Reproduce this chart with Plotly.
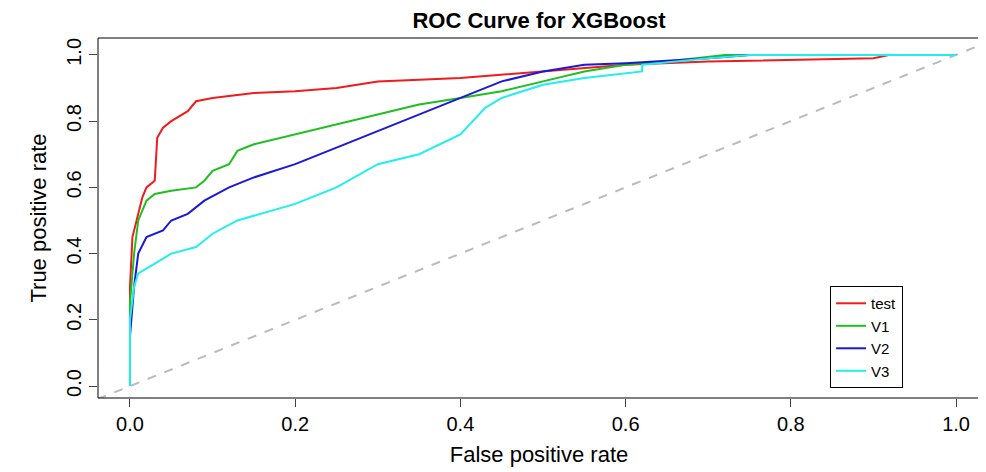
import plotly.graph_objects as go

test_x = [0,0,0.003,0.01,0.015,0.02,0.03,0.033,0.04,0.05,0.07,0.08,0.1,0.15,0.2,0.25,0.3,0.4,0.5,0.6,0.7,0.8,0.9,0.92,1]
test_y = [0,0.3,0.45,0.52,0.57,0.6,0.62,0.75,0.78,0.8,0.83,0.86,0.87,0.885,0.89,0.9,0.92,0.93,0.95,0.97,0.98,0.985,0.99,1.0,1]
v1_x = [0,0,0.005,0.01,0.02,0.03,0.05,0.08,0.09,0.1,0.12,0.13,0.15,0.2,0.25,0.3,0.35,0.4,0.45,0.5,0.55,0.6,0.65,0.72,1]
v1_y = [0,0.25,0.4,0.5,0.56,0.58,0.59,0.6,0.62,0.65,0.67,0.71,0.73,0.76,0.79,0.82,0.85,0.87,0.89,0.92,0.95,0.97,0.98,1.0,1]
v2_x = [0,0,0.005,0.01,0.02,0.04,0.05,0.07,0.09,0.12,0.15,0.2,0.25,0.3,0.35,0.4,0.45,0.5,0.55,0.6,0.7,0.75,1]
v2_y = [0,0.15,0.3,0.4,0.45,0.47,0.5,0.52,0.56,0.6,0.63,0.67,0.72,0.77,0.82,0.87,0.92,0.95,0.97,0.975,0.99,1.0,1]
v3_x = [0,0,0.005,0.01,0.03,0.05,0.08,0.1,0.13,0.2,0.25,0.3,0.35,0.4,0.43,0.45,0.5,0.55,0.62,0.62,0.7,0.75,1]
v3_y = [0,0.2,0.3,0.34,0.37,0.4,0.42,0.46,0.5,0.55,0.6,0.67,0.7,0.76,0.84,0.87,0.91,0.93,0.95,0.97,0.99,1.0,1]

series = [("test", test_x, test_y, "#ee1c1c"), ("V1", v1_x, v1_y, "#1fbf1f"),
          ("V2", v2_x, v2_y, "#1a1ad6"), ("V3", v3_x, v3_y, "#22eeee")]

fig = go.Figure()
fig.add_trace(go.Scatter(x=[-0.1, 1.1], y=[-0.1, 1.1], mode="lines", showlegend=False,
                         line=dict(color="#bbbbbb", dash="dash", width=2)))
for name, x, y, c in series:
    fig.add_trace(go.Scatter(x=x, y=y, name=name, mode="lines", line=dict(color=c, width=2)))

font = dict(family="Liberation Sans, Arial", size=20, color="black")
fig.update_layout(
    width=986, height=472, plot_bgcolor="white", paper_bgcolor="white",
    margin=dict(l=90, r=14, t=30, b=82), font=font,
    title=dict(text="<b>ROC Curve for XGBoost</b>", x=0.5, xref="paper", y=0.975, yanchor="middle",
               font=dict(size=22)),
    xaxis=dict(range=[-0.0387, 1.029], tickvals=[0,0.2,0.4,0.6,0.8,1.0], automargin=False,
               ticktext=["0.0","0.2","0.4","0.6","0.8","1.0"], ticks="outside", ticklen=8,
               showgrid=False, zeroline=False, showline=False,
               title=dict(text="False positive rate", standoff=12, font=dict(size=22))),
    yaxis=dict(range=[-0.036, 1.051], tickvals=[0,0.2,0.4,0.6,0.8,1.0], automargin=False,
               ticktext=["0.0","0.2","0.4","0.6","0.8","1.0"], ticks="outside", ticklen=8,
               tickangle=-90, showgrid=False, zeroline=False, showline=False,
               title=dict(text="True positive rate", standoff=10, font=dict(size=22))),
    legend=dict(x=0.83, y=0.311, xanchor="left", yanchor="top", bordercolor="black",
                borderwidth=1, font=dict(size=15), bgcolor="white", tracegroupgap=0),
    shapes=[dict(type="rect", xref="paper", yref="paper", x0=0, y0=0, x1=1, y1=1,
                 line=dict(color="black", width=1))],
)
fig.write_html("out.html")
